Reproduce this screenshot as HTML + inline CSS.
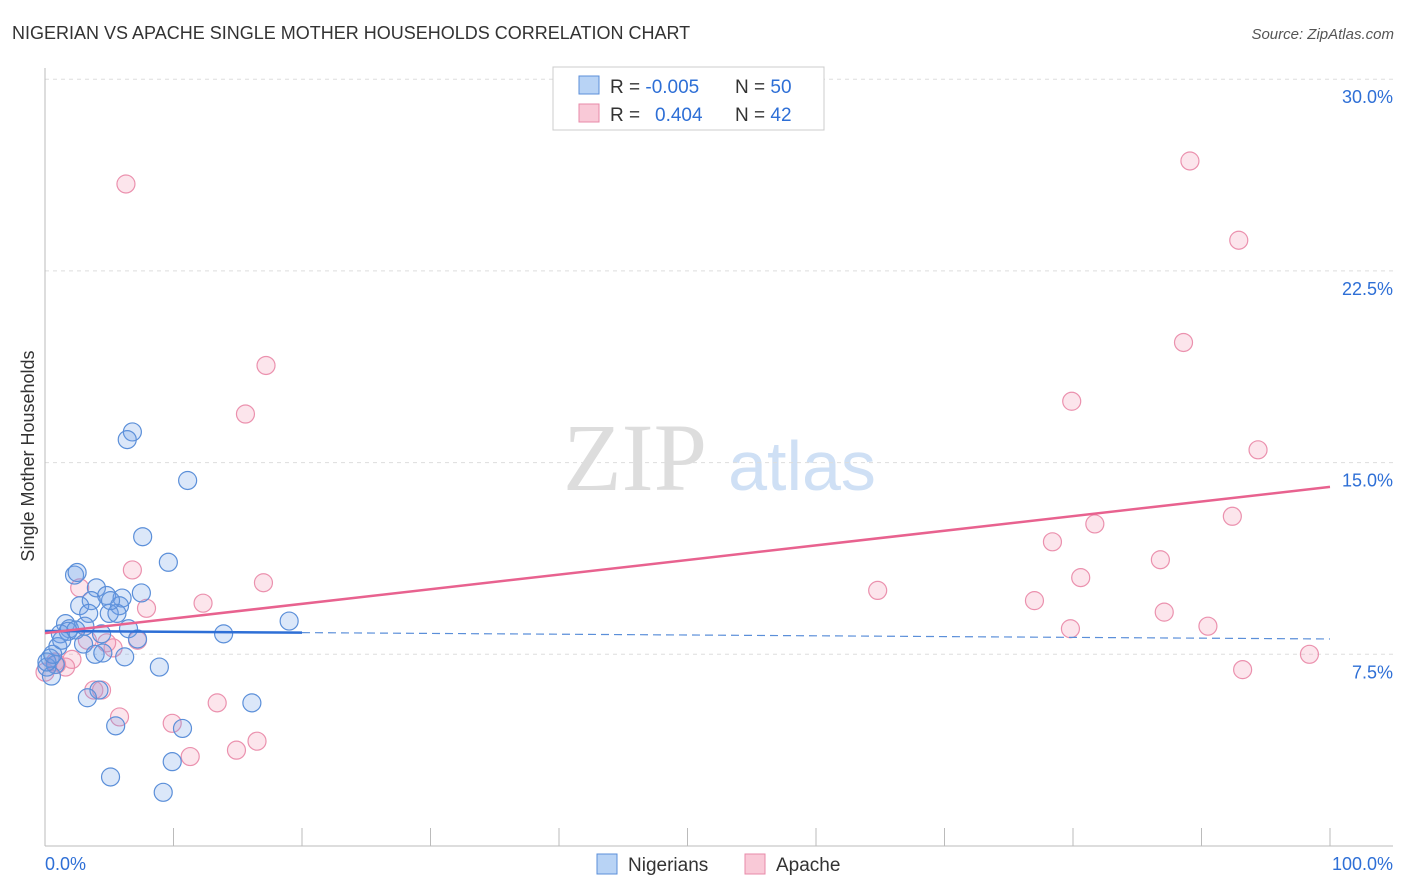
<!DOCTYPE html>
<html><head><meta charset="utf-8"><style>
body{margin:0;background:#fff;font-family:"Liberation Sans",sans-serif;}
svg{display:block}
</style></head><body>
<svg id="chart" width="1406" height="892" xmlns="http://www.w3.org/2000/svg">
<text x="12" y="39" font-size="18" fill="#333">NIGERIAN VS APACHE SINGLE MOTHER HOUSEHOLDS CORRELATION CHART</text>
<text x="1394" y="39" font-size="15" fill="#555" font-style="italic" text-anchor="end">Source: ZipAtlas.com</text>
<text x="34" y="456" font-size="18" fill="#333" text-anchor="middle" transform="rotate(-90 34 456)">Single Mother Households</text>
<text x="635" y="490" font-size="96" fill="#ddd" font-family="Liberation Serif" text-anchor="middle">ZIP</text>
<text x="802" y="490" font-size="70" fill="#cfe0f5" text-anchor="middle">atlas</text>
<g id="grid"></g><g id="axes"></g><g id="pts"></g><g id="trend"></g>
<g>
<rect x="553" y="67" width="271" height="63" fill="#fff" stroke="#ccc"/>
<rect x="579" y="76" width="20" height="18" fill="#b8d3f5" stroke="#5b8fd9"/>
<rect x="579" y="104" width="20" height="18" fill="#f9c9d7" stroke="#e88aa8"/>
<text x="610" y="93" font-size="19" fill="#333">R = <tspan fill="#2e6fd6">-0.005</tspan><tspan x="735">N = </tspan><tspan fill="#2e6fd6">50</tspan></text>
<text x="610" y="121" font-size="19" fill="#333">R = <tspan x="655" fill="#2e6fd6">0.404</tspan><tspan x="735">N = </tspan><tspan fill="#2e6fd6">42</tspan></text>
</g>
<g>
<rect x="597" y="854" width="20" height="20" fill="#b8d3f5" stroke="#5b8fd9"/>
<text x="628" y="871" font-size="19" fill="#333">Nigerians</text>
<rect x="745" y="854" width="20" height="20" fill="#f9c9d7" stroke="#e88aa8"/>
<text x="776" y="871" font-size="19" fill="#333">Apache</text>
</g>
</svg>
<script>
const yTicks=[7.5,15,22.5,30];
const yTickLabels=["7.5%","15.0%","22.5%","30.0%"];
const xTickLabels=["0.0%","100.0%"];
const nigX=[6.8,6.4,11.1,7.6,9.6,2.3,2.5,4.0,7.5,4.8,6.0,3.6,2.7,5.8,5.0,3.4,5.6,1.6,3.1,1.9,6.5,4.4,1.2,19.0,13.9,3.0,1.0,3.9,4.5,6.2,0.4,0.8,8.9,0.15,4.2,3.3,16.1,5.5,10.7,9.9,5.1,9.2,0.5,1.8,0.15,0.6,1.3,7.2,2.4,5.1];
const nigY=[16.2,15.9,14.3,12.1,11.1,10.6,10.7,10.1,9.9,9.8,9.7,9.6,9.4,9.4,9.1,9.1,9.1,8.7,8.6,8.5,8.5,8.3,8.3,8.8,8.3,7.9,7.8,7.5,7.55,7.4,7.35,7.1,7.0,7.0,6.1,5.8,5.6,4.7,4.6,3.3,2.7,2.1,6.65,8.4,7.2,7.5,8.05,8.1,8.45,9.6];
const apaX=[6.3,89.1,92.9,88.6,17.2,15.6,79.9,94.4,92.4,81.7,78.4,86.8,6.8,17.0,80.6,2.7,64.8,77.0,12.3,7.9,87.1,90.5,79.8,7.2,3.3,5.3,4.8,98.4,2.1,0.8,1.6,93.2,0,3.8,4.4,5.8,13.4,9.9,16.5,14.9,11.3,0.9];
const apaY=[25.9,26.8,23.7,19.7,18.8,16.9,17.4,15.5,12.9,12.6,11.9,11.2,10.8,10.3,10.5,10.1,10.0,9.6,9.5,9.3,9.15,8.6,8.5,8.05,8.05,7.75,7.95,7.5,7.3,7.2,7.0,6.9,6.8,6.1,6.1,5.05,5.6,4.8,4.1,3.75,3.5,7.1];
const nigTrend=[8.41,8.1];
const apaTrend=[8.33,14.05];
const NS="http://www.w3.org/2000/svg";
const X=v=>45+v*12.85, Y=v=>846-v*25.56;
function mk(tag,attrs,parent){const e=document.createElementNS(NS,tag);for(const k in attrs)e.setAttribute(k,attrs[k]);document.getElementById(parent).appendChild(e);return e;}
yTicks.forEach((t,i)=>{
 const l=mk('line',{x1:45,x2:1393,y1:Y(t),y2:Y(t),stroke:'#ddd','stroke-dasharray':'4 4'},'grid');
 
 
 const tx=mk('text',{x:1393,y:Y(t)+24,'font-size':18,fill:'#2e6fd6','text-anchor':'end'},'grid');
 tx.textContent=yTickLabels[i];
 
 
});
const ax=mk('line',{x1:45,x2:45,y1:68,y2:846,stroke:'#bbb'},'axes');


const bx=mk('line',{x1:45,x2:1393,y1:846,y2:846,stroke:'#bbb'},'axes');


for(let i=0;i<=10;i++){
 const t=mk('line',{x1:X(i*10),x2:X(i*10),y1:828,y2:846,stroke:'#bbb'},'axes');
 
 
}
[[0,'start',45],[100,'end',1393]].forEach((d,i)=>{
 const t=mk('text',{x:d[2],y:870,'font-size':18,fill:'#2e6fd6','text-anchor':d[1]},'axes');
 t.textContent=xTickLabels[i];
 
 
});
apaX.forEach((v,i)=>{
 const c=mk('circle',{cx:X(v),cy:Y(apaY[i]),r:9,fill:'rgba(242,150,180,0.25)',stroke:'#eb91ae','stroke-width':1.2},'pts');
 
 
});
nigX.forEach((v,i)=>{
 const c=mk('circle',{cx:X(v),cy:Y(nigY[i]),r:9,fill:'rgba(110,160,230,0.25)',stroke:'#5b8fd9','stroke-width':1.2},'pts');
 
 
});
const nAt=x=>nigTrend[0]+(nigTrend[1]-nigTrend[0])*x/100;
const l1=mk('line',{x1:X(0),y1:Y(nAt(0)),x2:X(20),y2:Y(nAt(20)),stroke:'#2e6fd6','stroke-width':2.5},'trend');


const l2=mk('line',{x1:X(20),y1:Y(nAt(20)),x2:X(100),y2:Y(nAt(100)),stroke:'#5b8fd9','stroke-width':1.2,'stroke-dasharray':'8 5'},'trend');


const l3=mk('line',{x1:X(0),y1:Y(apaTrend[0]),x2:X(100),y2:Y(apaTrend[1]),stroke:'#e8628f','stroke-width':2.5},'trend');


</script>
</body></html>
